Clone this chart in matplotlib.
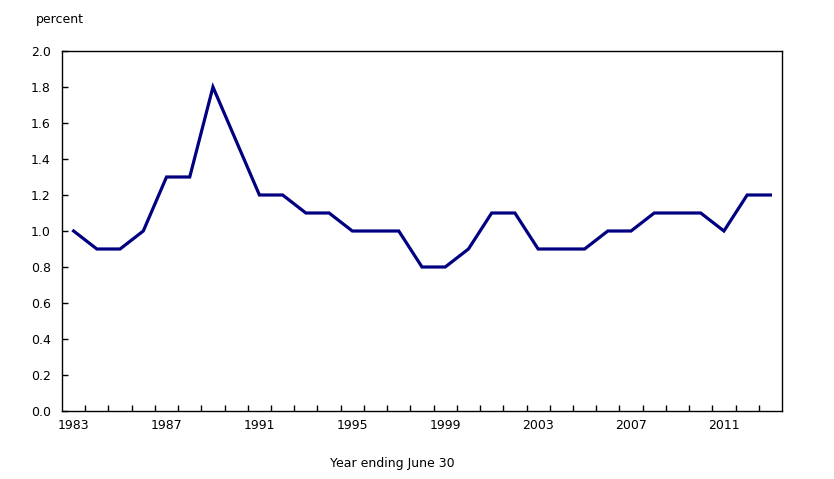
import matplotlib.pyplot as plt
import numpy as np

# Data
years = list(range(1983, 2014))
values = [1.0, 0.9, 0.9, 1.0, 1.3, 1.3, 1.8, 1.5, 1.2, 1.2,
          1.1, 1.1, 1.0, 1.0, 1.0, 0.8, 0.8, 0.9, 1.1, 1.1,
          0.9, 0.9, 0.9, 1.0, 1.0, 1.1, 1.1, 1.1, 1.0, 1.2, 1.2]
label_years = [1983, 1987, 1991, 1995, 1999, 2003, 2007, 2011]
y_ticks = np.arange(0, 2.01, 0.2)

fig = plt.figure(figsize=(8.34, 4.79), dpi=100)
ax = fig.add_axes([62 / 834, 1 - 411 / 479, 720 / 834, 360 / 479])

ax.plot(years, values, color="#000080", linewidth=2.3, solid_joinstyle="miter")

ax.set_xlim(1982.5, 2013.5)
ax.set_ylim(0, 2.0)

# boundaries between years get tick marks, labels sit at category centres
ax.set_xticks(np.arange(1983.5, 2013, 1.0))
ax.set_xticklabels([])
ax.set_xticks(label_years, minor=True)
ax.set_xticklabels([str(y) for y in label_years], minor=True)
ax.tick_params(axis="x", which="major", direction="in", length=4, width=1)
ax.tick_params(axis="x", which="minor", length=0, pad=6)

ax.set_yticks(y_ticks)
ax.set_yticklabels([f"{v:.1f}" for v in y_ticks])
ax.tick_params(axis="y", direction="in", length=4, width=1, pad=8)

for lbl in ax.get_xticklabels(minor=True) + ax.get_yticklabels():
    lbl.set_fontsize(9)

for s in ax.spines.values():
    s.set_linewidth(1)

fig.text(36 / 834, 1 - 19 / 479, "percent", fontsize=9, va="center", ha="left")
fig.text(392 / 834, 1 - 463 / 479, "Year ending June 30", fontsize=9,
         va="center", ha="center")

plt.savefig("out.png", dpi=100)
